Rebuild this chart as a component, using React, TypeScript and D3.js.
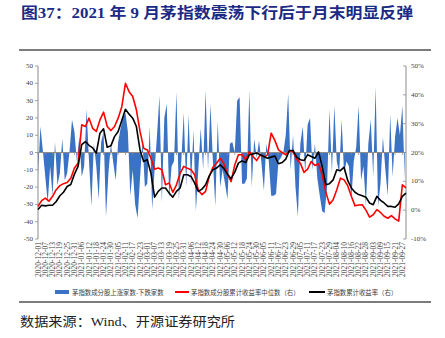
import React from 'react';
import * as d3 from 'd3';

// ---------- data ----------
const START = '2020-12-01';
const END = '2021-09-30';
const TICK_STEP_DAYS = 6;
const TICK_COUNT = 51;
const BLUE_STEP_DAYS = 2;
const LINE_STEP_DAYS = 3;

const LEFT_TICKS = [-50, -40, -30, -20, -10, 0, 10, 20, 30, 40, 50];
const RIGHT_TICKS = [-10, 0, 10, 20, 30, 40, 50];

// 茅指数成分股上涨家数-下跌家数 (every 2 calendar days)
const breadth = [
  -13, 15, 1, -14, -29, -8, -25, 6, -19, -12,
  8, -16, -12, 1, 19, 12, -5, 9, -14, -8,
  25, -5, -31, 5, -8, -27, 6, 12, -37, -12,
  5, -6, -16, 6, 14, 20, 23, 12, -25, -10,
  -30, -38, -15, 7, -20, -18, 15, -33, -10, 10,
  33, -29, 20, 28, -26, -8, -5, 35, -27, -5,
  23, -20, 22, -19, 13, -34, -10, 14, -10, 36,
  -10, 28, -5, -31, 18, -20, -10, -18, -27, 5,
  6, 0, 30, 32, -18, -18, -15, 36, -20, 8,
  -3, 7, -6, -22, 5, -5, -25, -25, -24, -5,
  -3, 0, 10, 34, -10, 10, -20, -37, 5, 15,
  -12, 16, 20, -10, 5, -15, -25, -34, -35, -20,
  25, -12, 27, -5, -12, 19, -12, -5, -8, -27,
  -5, 3, 27, -16, -8, -31, 5, 19, -14, 38,
  -31, -18, 9, -10, -25, 22, -14, 9, 20, 10,
  27, -16,
];

// 茅指数成分股累计收益率中位数（右）, % (every 3 calendar days)
const medianReturn = [
  1.3, 3.3, 4.2, 3.1, 4.8, 7.1, 8.5, 9.2, 9.6, 11.1,
  14.6, 16.3, 29.6, 29.0, 31.9, 28.4, 27.3, 31.3, 34.0, 29.0,
  27.6, 29.0, 31.9, 35.9, 44.0, 41.1, 39.4, 34.8, 27.3, 21.5,
  20.9, 18.0, 14.2, 14.6, 14.0, 8.8, 9.4, 6.2, 8.8, 12.8,
  15.2, 14.5, 14.0, 12.3, 6.9, 5.4, 6.5, 11.7, 14.9, 16.3,
  18.0, 16.1, 12.6, 9.9, 15.7, 19.2, 19.2, 17.5, 20.3, 18.6,
  17.2, 19.2, 18.4, 19.2, 26.7, 24.2, 20.9, 20.0, 19.2, 20.6,
  20.3, 17.7, 16.3, 13.1, 14.2, 16.9, 15.5, 16.1, 12.3, 6.2,
  2.1, 3.6, 7.1, 11.1, 10.5, 8.5, 4.8, 1.5, 1.8, 1.9,
  0.0, -2.4, -1.6, 0.2, -0.8, -2.1, -2.8, -1.9, -3.0, -3.8,
  8.8, 7.7,
];

// 茅指数累计收益率（右）, % (every 3 calendar days)
const indexReturn = [
  0.2, 1.7, 1.5, 1.7, 1.7, 3.0, 5.0, 6.2, 8.2, 8.9,
  12.5, 15.2, 22.7, 23.8, 22.5, 21.6, 19.8, 26.7, 28.2, 21.8,
  22.3, 25.5, 27.3, 31.1, 35.0, 33.3, 31.9, 29.0, 20.9, 16.9,
  17.5, 12.8, 4.5, 6.5, 7.7, 7.7, 5.9, 4.5, 6.5, 7.7,
  12.3, 12.3, 11.7, 9.4, 6.5, 7.3, 8.8, 11.9, 14.0, 14.6,
  15.7, 14.5, 12.5, 10.9, 13.2, 16.3, 17.1, 16.5, 19.2, 19.5,
  19.8, 19.2, 18.6, 18.0, 18.4, 18.8, 16.1, 16.5, 17.7, 20.7,
  20.7, 18.4, 17.5, 17.2, 19.2, 18.6, 18.0, 20.2, 15.2, 8.8,
  9.2, 10.5, 14.0, 13.7, 14.9, 10.3, 7.7, 6.2, 5.4, 5.0,
  4.5, 2.5, 1.9, 4.8, 3.4, 2.5, 1.3, 1.3, 1.0, 2.2,
  4.8, 5.9,
];

const TITLE = '图37：2021 年 9 月茅指数震荡下行后于月末明显反弹';
const SOURCE = '数据来源：Wind、开源证券研究所';
const LEGEND = [
  '茅指数成分股上涨家数-下跌家数',
  '茅指数成分股累计收益率中位数（右）',
  '茅指数累计收益率（右）',
];

// ---------- chart ----------
const SERIF = '"Liberation Serif", "Times New Roman", "Noto Sans CJK SC", serif';
const CJK = '"Liberation Serif", "Noto Sans CJK SC", sans-serif';

export default function App() {
  const W = 445;
  const H = 338;
  const start = d3.utcParse('%Y-%m-%d')(START)!;
  const end = d3.utcParse('%Y-%m-%d')(END)!;
  const x = d3.scaleUtc().domain([start, end]).range([38, 406]);
  const yL = d3.scaleLinear().domain([-50, 50]).range([239, 66]);
  const yR = d3.scaleLinear().domain([-10, 50]).range([239, 66]);
  const fmt = d3.utcFormat('%Y-%m-%d');

  const tickDates = d3.range(TICK_COUNT).map((i) => d3.utcDay.offset(start, i * TICK_STEP_DAYS));

  const area = d3
    .area<number>()
    .x((_, i) => x(d3.utcDay.offset(start, i * BLUE_STEP_DAYS)))
    .y0(yL(0))
    .y1((v) => yL(v));
  const line = d3
    .line<number>()
    .x((_, i) => x(d3.utcDay.offset(start, i * LINE_STEP_DAYS)))
    .y((v) => yR(v));

  const axisColor = '#8c8c8c';
  const textColor = '#404040';
  const zeroY = yL(0);

  return (
    <svg
      width={W}
      height={H}
      viewBox={`0 0 ${W} ${H}`}
      style={{ position: 'absolute', left: 0, top: 0, background: '#fff' }}
    >
      <rect x={0} y={0} width={W} height={H} fill="#fff" />
      {/* title */}
      <text
        x={21}
        y={18}
        fontFamily={CJK}
        fontWeight="bold"
        fontSize={15}
        fill="#1b2a84"
        textLength={392}
        lengthAdjust="spacingAndGlyphs"
      >
        {TITLE}
      </text>
      <line x1={19} x2={431} y1={50} y2={50} stroke="#505050" strokeWidth={1.3} />

      {/* blue breadth area */}
      <path d={area(breadth) || ''} fill="#3b73c4" />

      {/* zero / category axis */}
      <line x1={38} x2={406} y1={zeroY} y2={zeroY} stroke={axisColor} strokeWidth={1} />
      {tickDates.map((d, i) => (
        <line key={'zt' + i} x1={x(d)} x2={x(d)} y1={zeroY} y2={zeroY + 2.5} stroke={axisColor} strokeWidth={0.8} />
      ))}

      {/* left axis */}
      <line x1={38} x2={38} y1={66} y2={239} stroke={axisColor} strokeWidth={1} />
      {LEFT_TICKS.map((t) => (
        <g key={'l' + t}>
          <line x1={35} x2={38} y1={yL(t)} y2={yL(t)} stroke={axisColor} strokeWidth={0.8} />
          <text
            x={33}
            y={yL(t)}
            textAnchor="end"
            dominantBaseline="central"
            fontFamily={SERIF}
            fontSize={7}
            fill={textColor}
          >
            {t}
          </text>
        </g>
      ))}

      {/* right axis */}
      <line x1={406} x2={406} y1={66} y2={239} stroke={axisColor} strokeWidth={1} />
      {RIGHT_TICKS.map((t) => (
        <g key={'r' + t}>
          <line x1={403} x2={406} y1={yR(t)} y2={yR(t)} stroke={axisColor} strokeWidth={0.8} />
          <text
            x={411}
            y={yR(t)}
            dominantBaseline="central"
            fontFamily={SERIF}
            fontSize={7}
            fill={textColor}
          >
            {t + '%'}
          </text>
        </g>
      ))}

      {/* x labels */}
      {tickDates.map((d, i) => (
        <text
          key={'xl' + i}
          transform={`translate(${x(d)},242) rotate(-90)`}
          textAnchor="end"
          dominantBaseline="central"
          fontFamily={SERIF}
          fontSize={7.5}
          fill={textColor}
        >
          {fmt(d)}
        </text>
      ))}

      {/* lines */}
      <path d={line(medianReturn) || ''} fill="none" stroke="#ff0000" strokeWidth={1.6} strokeLinejoin="round" />
      <path d={line(indexReturn) || ''} fill="none" stroke="#000" strokeWidth={1.6} strokeLinejoin="round" />

      {/* legend */}
      <rect x={55} y={290} width={14} height={4} fill="#3b73c4" />
      <text x={72} y={292} dominantBaseline="central" fontFamily={CJK} fontSize={6.4} fill={textColor}>
        {LEGEND[0]}
      </text>
      <line x1={175} x2={189} y1={292} y2={292} stroke="#ff0000" strokeWidth={2} />
      <text x={191} y={292} dominantBaseline="central" fontFamily={CJK} fontSize={6.4} fill={textColor}>
        {LEGEND[1]}
      </text>
      <line x1={309} x2={325} y1={292} y2={292} stroke="#000" strokeWidth={2} />
      <text x={327} y={292} dominantBaseline="central" fontFamily={CJK} fontSize={6.4} fill={textColor}>
        {LEGEND[2]}
      </text>

      {/* footer */}
      <line x1={19} x2={431} y1={302} y2={302} stroke="#505050" strokeWidth={1.3} />
      <text
        x={20}
        y={326}
        fontFamily={CJK}
        fontSize={13}
        fill="#222"
        textLength={215}
        lengthAdjust="spacingAndGlyphs"
      >
        {SOURCE}
      </text>
    </svg>
  );
}
